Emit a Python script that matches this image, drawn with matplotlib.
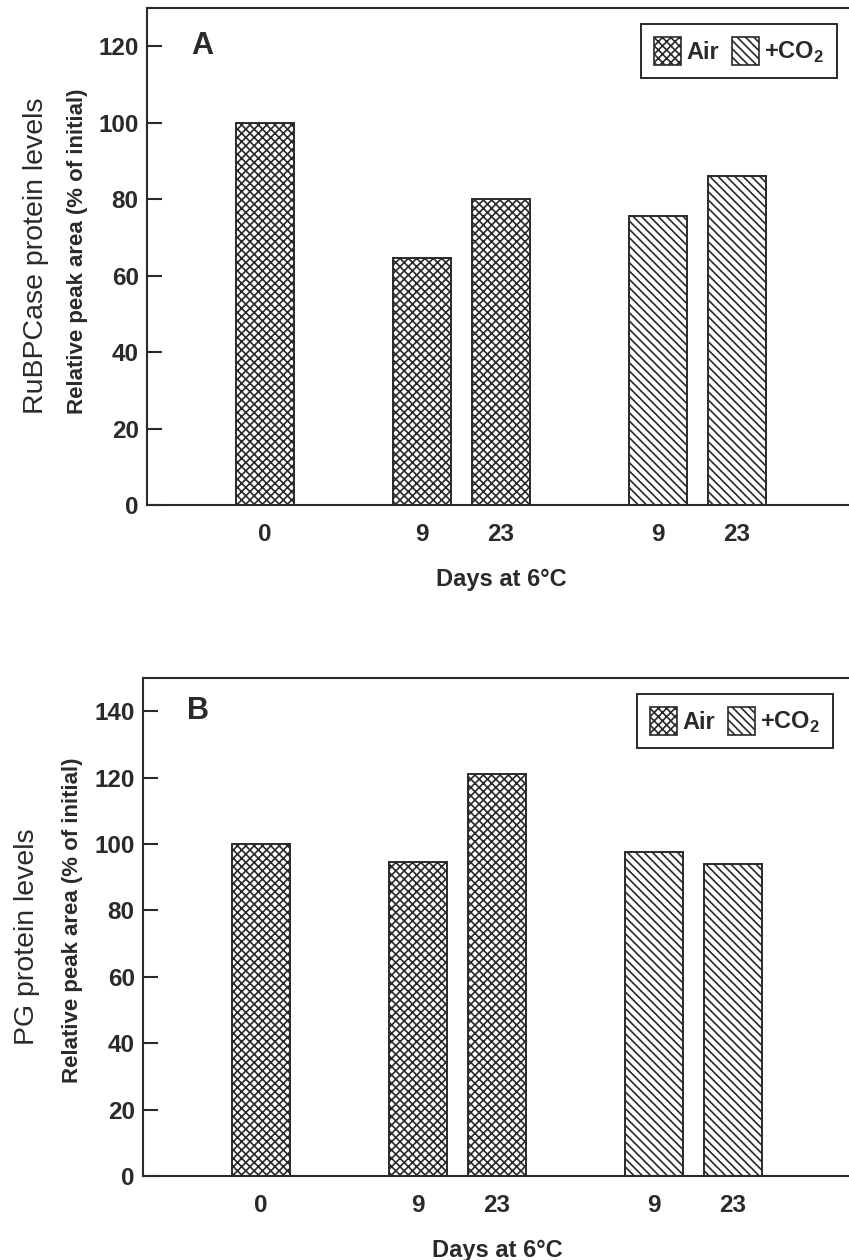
import matplotlib
matplotlib.use("Agg")
import matplotlib.pyplot as plt
from matplotlib.patches import Patch

plt.rcParams['font.family'] = ['Liberation Sans', 'DejaVu Sans']
plt.rcParams['mathtext.fontset'] = 'custom'
plt.rcParams['mathtext.rm'] = 'Liberation Sans:bold'
plt.rcParams['mathtext.bf'] = 'Liberation Sans:bold'
plt.rcParams['hatch.linewidth'] = 1.2
plt.rcParams['hatch.color'] = '#2a2a2a'

# Day labels along the x axis: control, then air-stored and CO2-stored samples
day_labels = ['0', '9', '23', '9', '23']

# Panel A: RuBPCase protein levels (% of initial)
rubp_air = [100, 64.5, 80]
rubp_co2 = [75.5, 86]

# Panel B: PG protein levels (% of initial)
pg_air = [100, 94.5, 121]
pg_co2 = [97.5, 94]

air_x = [0, 2, 3]
co2_x = [5, 6]
bar_w = 0.74
ink = '#2a2a2a'
air_hatch = 'xxxx'
co2_hatch = '\\\\\\\\'

W, H = 849, 1260
fig = plt.figure(figsize=(W / 100, H / 100), dpi=100)
fig.patch.set_facecolor('white')


def px_axes(left, top, right, bottom):
    return fig.add_axes([left / W, 1 - bottom / H, (right - left) / W, (bottom - top) / H])


def panel(ax, air, co2, ymax, yticks, letter):
    ax.bar(air_x, air, width=bar_w, facecolor='white', edgecolor=ink,
           linewidth=1.4, hatch=air_hatch)
    ax.bar(co2_x, co2, width=bar_w, facecolor='white', edgecolor=ink,
           linewidth=1.4, hatch=co2_hatch)
    ax.set_xlim(-1.5, 7.5)
    ax.set_ylim(0, ymax)
    ax.set_yticks(yticks)
    ax.set_xticks(air_x + co2_x)
    ax.set_xticklabels(day_labels)
    for s in ax.spines.values():
        s.set_color(ink)
        s.set_linewidth(1.5)
    ax.tick_params(axis='y', direction='in', length=11, width=1.5, color=ink,
                   labelsize=17.5, pad=6, labelcolor=ink)
    ax.tick_params(axis='x', length=0, labelsize=17.5, pad=13, labelcolor=ink)
    for lab in ax.get_xticklabels() + ax.get_yticklabels():
        lab.set_fontweight('bold')
    ax.set_xlabel('Days at 6°C', fontsize=17, fontweight='bold', color=ink,
                  labelpad=16)
    ax.text(-0.8, yticks[-1], letter, fontsize=22, fontweight='bold',
            color=ink, ha='center', va='center')
    handles = [Patch(facecolor='white', edgecolor=ink, hatch=air_hatch, linewidth=1.2),
               Patch(facecolor='white', edgecolor=ink, hatch=co2_hatch, linewidth=1.2)]
    leg = ax.legend(handles, ['Air', '+CO$_2$'], loc='upper right',
                    bbox_to_anchor=(0.975, 0.968), borderaxespad=0,
                    ncol=2, handlelength=1.15, handleheight=1.45,
                    handletextpad=0.22, columnspacing=0.55, borderpad=0.55,
                    fancybox=False, framealpha=1, edgecolor=ink,
                    prop={'weight': 'bold', 'size': 17})
    leg.get_frame().set_linewidth(1.4)
    for t in leg.get_texts():
        t.set_color(ink)


axA = px_axes(147, 8, 855, 505)
panel(axA, rubp_air, rubp_co2, 130, [0, 20, 40, 60, 80, 100, 120], 'A')
fig.text(36 / W, 1 - 256 / H, 'RuBPCase protein levels', rotation=90,
         fontsize=20.5, color=ink, ha='center', va='center')
fig.text(78 / W, 1 - 251 / H, 'Relative peak area (% of initial)', rotation=90,
         fontsize=16, fontweight='bold', color=ink, ha='center', va='center')

axB = px_axes(143, 678, 851, 1176)
panel(axB, pg_air, pg_co2, 150, [0, 20, 40, 60, 80, 100, 120, 140], 'B')
fig.text(27 / W, 1 - 937 / H, 'PG protein levels', rotation=90,
         fontsize=20.5, color=ink, ha='center', va='center')
fig.text(73 / W, 1 - 920 / H, 'Relative peak area (% of initial)', rotation=90,
         fontsize=16, fontweight='bold', color=ink, ha='center', va='center')

fig.savefig('out.png', dpi=100, facecolor='white')
